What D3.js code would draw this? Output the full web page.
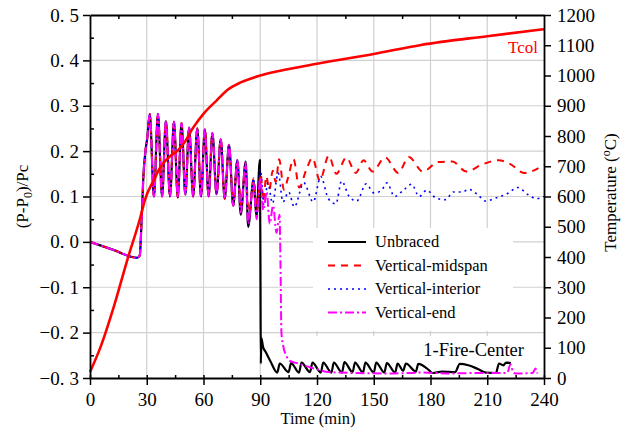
<!DOCTYPE html>
<html>
<head>
<meta charset="utf-8">
<script src="https://cdn.jsdelivr.net/npm/d3@7"></script>
<style>
body { margin: 0; background: #fff; }
svg text { font-family: "Liberation Serif", "Times New Roman", serif; fill: #000; }
</style>
</head>
<body>
<svg width="637" height="430"></svg>
<script>
// ---- data ----
var timeTicks = [0, 30, 60, 90, 120, 150, 180, 210, 240];
var timeMinor = [15, 45, 75, 105, 135, 165, 195, 225];
var loadTicks = [-0.3, -0.2, -0.1, 0, 0.1, 0.2, 0.3, 0.4, 0.5];
var loadMinor = [-0.25, -0.15, -0.05, 0.05, 0.15, 0.25, 0.35, 0.45];
var tempTicks = [0, 100, 200, 300, 400, 500, 600, 700, 800, 900, 1000, 1100, 1200];

var seriesNames = ["Unbraced", "Vertical-midspan", "Vertical-interior", "Vertical-end"];

// column temperature [time, degC]
var tcol = [[0,20],[5.6,103],[12.6,236],[19.7,390],[26.7,533],[29,588],[33.8,655],[37.3,698],
  [42.6,735],[46.1,750],[49.6,776],[54.9,831],[60.2,875],[67,918],[72.6,952],[80,978],
  [90,1000],[100,1015],[120,1039],[150,1071],[175,1101],[210,1130],[240,1153]];

// shared part of all four load curves [time, (P-P0)/Pc]
var commonLoad = [[0,0],[12,-0.017],[25,-0.035],[26.3,-0.03],[27.3,0.05],[28.3,0.15],[29.3,0.2],
  [30.3,0.23],[31.6,0.282],[33.8,0.1],[35.9,0.282],[38.1,0.1],[40.1,0.266],[42.3,0.1],
  [44.4,0.265],[46.4,0.098],[48.4,0.262],[50.4,0.104],[52.4,0.252],[54.5,0.1],[56.7,0.25],
  [58.7,0.1],[60.7,0.248],[62.7,0.1],[64.7,0.24],[66.9,0.105],[69.1,0.226],[71.2,0.095],
  [73.5,0.214],[75.7,0.08],[77.9,0.18]];

var unbracedTail = [[79.7,0.06],[82.3,0.177],[83.6,0.033],[86.4,0.135],[88,0.055],[89.8,0.18],
  [90.1,-0.05],[90.3,-0.268],[90.6,-0.212],[91.5,-0.232],[92.8,-0.242],[95.5,-0.264],[99,-0.288],
  [100.3,-0.268],[105,-0.287],[106.3,-0.267],[110.5,-0.288],[111.8,-0.266],[116.3,-0.287],
  [117.6,-0.266],[122,-0.288],[123.3,-0.266],[127.6,-0.288],[128.9,-0.266],[133.2,-0.288],
  [134.5,-0.265],[138.8,-0.287],[140.1,-0.266],[144.3,-0.288],[145.6,-0.266],[150,-0.288],
  [151.3,-0.266],[155.6,-0.288],[156.9,-0.267],[161.3,-0.288],[162.6,-0.268],[165.5,-0.284],
  [167,-0.268],[172.3,-0.286],[173.5,-0.269],[179.3,-0.283],[181,-0.289],[186,-0.286],
  [193,-0.287],[195.5,-0.269],[200,-0.272],[205,-0.28],[209.3,-0.288],[214.6,-0.289],
  [216.2,-0.268],[218.5,-0.272],[220,-0.266],[222.5,-0.267]];

var midspanTail = [[79.8,0.08],[82.2,0.165],[84,0.05],[86.5,0.14],[88.3,0.07],[90.2,0.15],
  [91.6,0.09],[93.2,0.145],[94.8,0.115],[96.6,0.157],[98.2,0.132],[100,0.182],[102.5,0.115],
  [104.6,0.14],[107.6,0.182],[110.6,0.12],[114.4,0.16],[117.6,0.185],[121.5,0.135],[126.2,0.19],
  [130.2,0.15],[135.5,0.186],[140.5,0.152],[144.6,0.18],[149.3,0.155],[156,0.186],[163,0.152],
  [168.5,0.187],[176,0.155],[184,0.176],[191.5,0.177],[199,0.155],[207,0.17],[216,0.18],
  [222,0.172],[229.5,0.152],[240,0.17]];

var interiorTail = [[79.7,0.065],[82.2,0.17],[83.7,0.04],[86.4,0.14],[88.2,0.06],[90,0.16],
  [92,0.08],[94,0.13],[96.5,0.085],[99.5,0.152],[102,0.088],[105,0.11],[108,0.077],[113,0.13],
  [118,0.088],[122,0.144],[126,0.095],[130,0.084],[133,0.134],[137,0.1],[141,0.09],[146,0.128],
  [150,0.108],[154,0.113],[157,0.13],[161,0.1],[166,0.115],[170,0.127],[174,0.1],[178,0.114],
  [183,0.096],[188,0.093],[192,0.11],[197,0.11],[200,0.116],[205,0.104],[209,0.09],[214,0.096],
  [221,0.107],[226,0.12],[231.6,0.104],[236,0.095],[240,0.1]];

var endTail = [[79.7,0.065],[82.2,0.175],[83.6,0.04],[86.4,0.13],[88.1,0.05],[90,0.14],
  [91.6,0.07],[93.4,0.11],[95,0.04],[96.8,0.08],[98.6,0.02],[100.2,0.06],[100.7,-0.05],
  [101.2,-0.2],[102,-0.226],[104,-0.253],[106,-0.263],[110,-0.268],[118.4,-0.279],
  [126.4,-0.287],[140,-0.289],[160,-0.29],[175,-0.288],[190,-0.29],[205,-0.289],[220.5,-0.289],
  [222.3,-0.27],[223.8,-0.288],[225,-0.29],[234,-0.289],[235.5,-0.279],[236.5,-0.29]];

// ---- drawing ----
var svg = d3.select("svg");
var serif = "'Liberation Serif', 'Times New Roman', serif";

var x = d3.scaleLinear().domain([0, 240]).range([90, 544]);
var y = d3.scaleLinear().domain([-0.3, 0.5]).range([378, 15]);
var yT = d3.scaleLinear().domain([0, 1200]).range([378, 15]);

var styles = [
  {color: "#000000", width: 2.2, dash: null},
  {color: "#ff0000", width: 2, dash: "7,6"},
  {color: "#0000ff", width: 1.6, dash: "2,4"},
  {color: "#ff00ff", width: 2, dash: "9,3,2,3"}
];

var series = [
  commonLoad.concat(unbracedTail),
  commonLoad.concat(midspanTail),
  commonLoad.concat(interiorTail),
  commonLoad.concat(endTail)
];

// grid
var grid = svg.append("g").attr("stroke", "#d0d0d0").attr("stroke-width", 1.2);
grid.selectAll("line.v")
  .data(timeTicks.slice(1, -1))
  .enter().append("line")
  .attr("x1", function(d) { return x(d); })
  .attr("x2", function(d) { return x(d); })
  .attr("y1", y(0.5))
  .attr("y2", y(-0.3));
grid.selectAll("line.h")
  .data(loadTicks.slice(1, -1))
  .enter().append("line")
  .attr("x1", x(0))
  .attr("x2", x(240))
  .attr("y1", function(d) { return y(d); })
  .attr("y2", function(d) { return y(d); });

// white boxes behind legend and annotation
svg.append("rect")
  .attr("x", 313).attr("y", 228)
  .attr("width", 200).attr("height", 103)
  .style("fill", "white");
svg.append("rect")
  .attr("x", 300).attr("y", 336)
  .attr("width", 235).attr("height", 41)
  .style("fill", "white");

var line = d3.line()
  .x(function(d) { return x(d[0]); })
  .y(function(d) { return y(d[1]); })
  .curve(d3.curveMonotoneX);

var lineT = d3.line()
  .x(function(d) { return x(d[0]); })
  .y(function(d) { return yT(d[1]); })
  .curve(d3.curveMonotoneX);

// black first, magenta on top
[0, 1, 2, 3].forEach(function(i) {
  svg.append("path")
    .datum(series[i])
    .attr("d", line)
    .style("fill", "none")
    .style("stroke", styles[i].color)
    .style("stroke-width", styles[i].width)
    .style("stroke-dasharray", styles[i].dash)
    .style("stroke-linejoin", "round");
});

svg.append("path")
  .datum(tcol)
  .attr("d", lineT)
  .style("fill", "none")
  .style("stroke", "#ff0000")
  .style("stroke-width", 2.6);

// axes
function splitDecimal(g) {
  g.selectAll(".tick text").each(function() {
    var t = d3.select(this), s = t.text(), i = s.indexOf(".");
    t.text(null);
    t.append("tspan").text(s.slice(0, i + 1));
    t.append("tspan").attr("dx", 5).text(s.slice(i + 1));
  });
}

function styleAxis(g) {
  g.attr("font-family", serif).attr("font-size", 19);
  g.select(".domain").attr("stroke", "#000").attr("stroke-width", 1.8);
  g.selectAll(".tick line").attr("stroke", "#000").attr("stroke-width", 1.5);
  g.selectAll(".tick text")
    .attr("font-family", serif)
    .style("font-size", "19px")
    .attr("fill", "#000");
}

var xAxis = svg.append("g")
  .attr("transform", "translate(0," + y(-0.3) + ")")
  .call(d3.axisBottom(x).tickValues(timeTicks).tickSize(7).tickSizeOuter(0).tickPadding(8)
    .tickFormat(d3.format("d")))
  .call(styleAxis);
xAxis.selectAll(".tick line").attr("y1", -3);

svg.append("g")
  .attr("transform", "translate(0," + y(-0.3) + ")")
  .call(d3.axisBottom(x).tickValues(timeMinor).tickSize(-3).tickFormat(""))
  .call(styleAxis)
  .select(".domain").remove();

svg.append("g")
  .attr("transform", "translate(0," + y(0.5) + ")")
  .call(d3.axisTop(x).tickValues(timeMinor).tickSize(-4).tickSizeOuter(0).tickFormat(""))
  .call(styleAxis);

svg.append("g")
  .attr("transform", "translate(" + x(0) + ",0)")
  .call(d3.axisLeft(y).tickValues(loadTicks).tickSize(7).tickSizeOuter(0).tickPadding(4)
    .tickFormat(d3.format(".1f")))
  .call(styleAxis)
  .call(splitDecimal);

svg.append("g")
  .attr("transform", "translate(" + x(0) + ",0)")
  .call(d3.axisLeft(y).tickValues(loadMinor).tickSize(-4).tickFormat(""))
  .call(styleAxis)
  .select(".domain").remove();

svg.append("g")
  .attr("transform", "translate(" + x(240) + ",0)")
  .call(d3.axisRight(yT).tickValues(tempTicks).tickSize(7).tickSizeOuter(0).tickPadding(6)
    .tickFormat(d3.format("d")))
  .call(styleAxis);

// axis titles
svg.append("text")
  .attr("x", (x(0) + x(240)) / 2 + 1)
  .attr("y", 424)
  .attr("text-anchor", "middle")
  .style("font-size", "16.5px")
  .text("Time (min)");

var yLab = svg.append("text")
  .attr("transform", "translate(28," + ((y(0.5) + y(-0.3)) / 2) + ")rotate(-90)")
  .attr("text-anchor", "middle")
  .style("font-size", "17px");
yLab.append("tspan").text("(P-P");
yLab.append("tspan").attr("dy", 4).style("font-size", "12px").text("0");
yLab.append("tspan").attr("dy", -4).text(")/Pc");

var tLab = svg.append("text")
  .attr("transform", "translate(616," + ((y(0.5) + y(-0.3)) / 2 - 4) + ")rotate(-90)")
  .attr("text-anchor", "middle")
  .style("font-size", "17px");
tLab.append("tspan").text("Temperature (");
tLab.append("tspan").attr("dy", -6).style("font-size", "12px").text("o");
tLab.append("tspan").attr("dy", 6).text("C)");

// annotations
svg.append("text")
  .attr("x", 538).attr("y", 53)
  .attr("text-anchor", "end")
  .style("font-size", "17px")
  .style("fill", "#ff0000")
  .text("Tcol");

svg.append("text")
  .attr("x", 524).attr("y", 356)
  .attr("text-anchor", "end")
  .style("font-size", "18.5px")
  .text("1-Fire-Center");

// legend
var legend = svg.append("g").selectAll("g")
  .data(seriesNames)
  .enter().append("g")
  .attr("transform", function(d, i) { return "translate(0," + (242 + i * 23.5) + ")"; });

legend.append("line")
  .attr("x1", 328).attr("x2", 366)
  .style("stroke", function(d, i) { return styles[i].color; })
  .style("stroke-width", function(d, i) { return styles[i].width; })
  .style("stroke-dasharray", function(d, i) { return styles[i].dash; });

legend.append("text")
  .attr("x", 375)
  .attr("dy", "0.33em")
  .style("font-size", "16.5px")
  .text(function(d) { return d; });
</script>
</body>
</html>
